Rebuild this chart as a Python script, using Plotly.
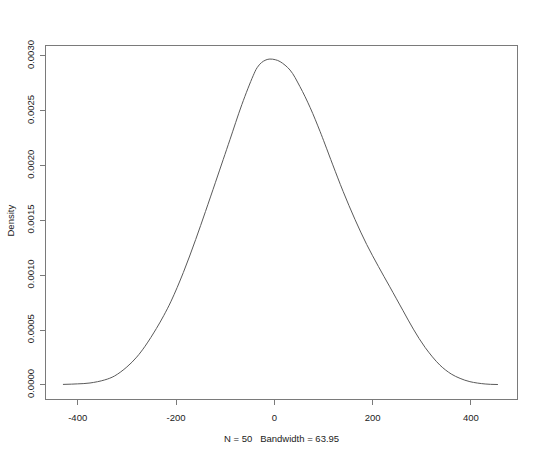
import plotly.graph_objects as go

# Density curve (x value, density)
x_vals = [-430, -400, -375, -345, -325, -300, -280, -263, -240, -225, -210,
          -185, -160, -140, -120, -104, -90, -66, -43, -35, -26, -17, -9, 2,
          12, 32, 52, 73, 93, 103, 119, 140, 164, 188, 212, 235, 262, 283,
          307, 337, 360, 378, 398, 429, 455]
density = [0.000005, 0.000010, 0.000018, 0.000046, 0.000082, 0.000164,
           0.000254, 0.000353, 0.000514, 0.000632, 0.000764, 0.001026,
           0.001326, 0.001582, 0.001844, 0.002055, 0.002240, 0.002557,
           0.002820, 0.002893, 0.002940, 0.002964, 0.002972, 0.002966,
           0.002948, 0.002872, 0.002722, 0.002529, 0.002313, 0.002197,
           0.002007, 0.001765, 0.001511, 0.001281, 0.001079, 0.000895,
           0.000677, 0.000509, 0.000341, 0.000181, 0.000100, 0.000060,
           0.000030, 0.000009, 0.000004]

x_ticks = [-400, -200, 0, 200, 400]
x_tick_text = ["-400", "-200", "0", "200", "400"]
y_ticks = [0.0, 0.0005, 0.0010, 0.0015, 0.0020, 0.0025, 0.0030]
y_tick_text = ["0.0000", "0.0005", "0.0010", "0.0015", "0.0020", "0.0025", "0.0030"]

x_title = "N = 50\u00a0\u00a0\u00a0Bandwidth = 63.95"
y_title = "Density"

curve_col = "#5a5a5a"
box_col = "#7a7a7a"
text_col = "#222222"
font_family = "Liberation Sans, Arial, sans-serif"

fig = go.Figure()
fig.add_trace(go.Scatter(
    x=x_vals, y=density, mode="lines",
    line=dict(color=curve_col, width=1, shape="spline", smoothing=1),
    hoverinfo="skip", showlegend=False,
))

fig.update_layout(
    width=540, height=456,
    margin=dict(l=46, r=23, t=46, b=57, autoexpand=False),
    paper_bgcolor="white", plot_bgcolor="white",
    font=dict(family=font_family, size=9.5, color=text_col),
    showlegend=False,
)
fig.update_xaxes(
    range=[-464.5, 493.8], showgrid=False, zeroline=False, automargin=False,
    showline=True, mirror=True, linecolor=box_col, linewidth=1,
    ticks="outside", ticklen=5, tickwidth=1, tickcolor=box_col,
    tickvals=x_ticks, ticktext=x_tick_text, ticklabelstandoff=5,
    tickfont=dict(size=9.5, color=text_col),
)
fig.update_yaxes(
    range=[-0.000128, 0.003091], showgrid=False, zeroline=False, automargin=False,
    showline=True, mirror=True, linecolor=box_col, linewidth=1,
    ticks="outside", ticklen=5, tickwidth=1, tickcolor=box_col,
    tickvals=y_ticks, ticktext=y_tick_text, tickangle=-90, ticklabelstandoff=2,
    tickfont=dict(size=9.5, color=text_col),
)

fig.add_annotation(
    text=x_title, xref="paper", yref="paper",
    x=0.5, y=(399 - 438) / 353, xanchor="center", yanchor="middle",
    showarrow=False, font=dict(size=9.5, color=text_col),
)
fig.add_annotation(
    text=y_title, xref="paper", yref="paper",
    x=(9.5 - 46) / 471, y=(399 - 221) / 353, xanchor="center", yanchor="middle",
    textangle=-90, showarrow=False, font=dict(size=9.5, color=text_col),
)

fig.write_html(
    "out.html",
    config={"displayModeBar": False},
    post_script="document.body.style.margin='0';",
)
